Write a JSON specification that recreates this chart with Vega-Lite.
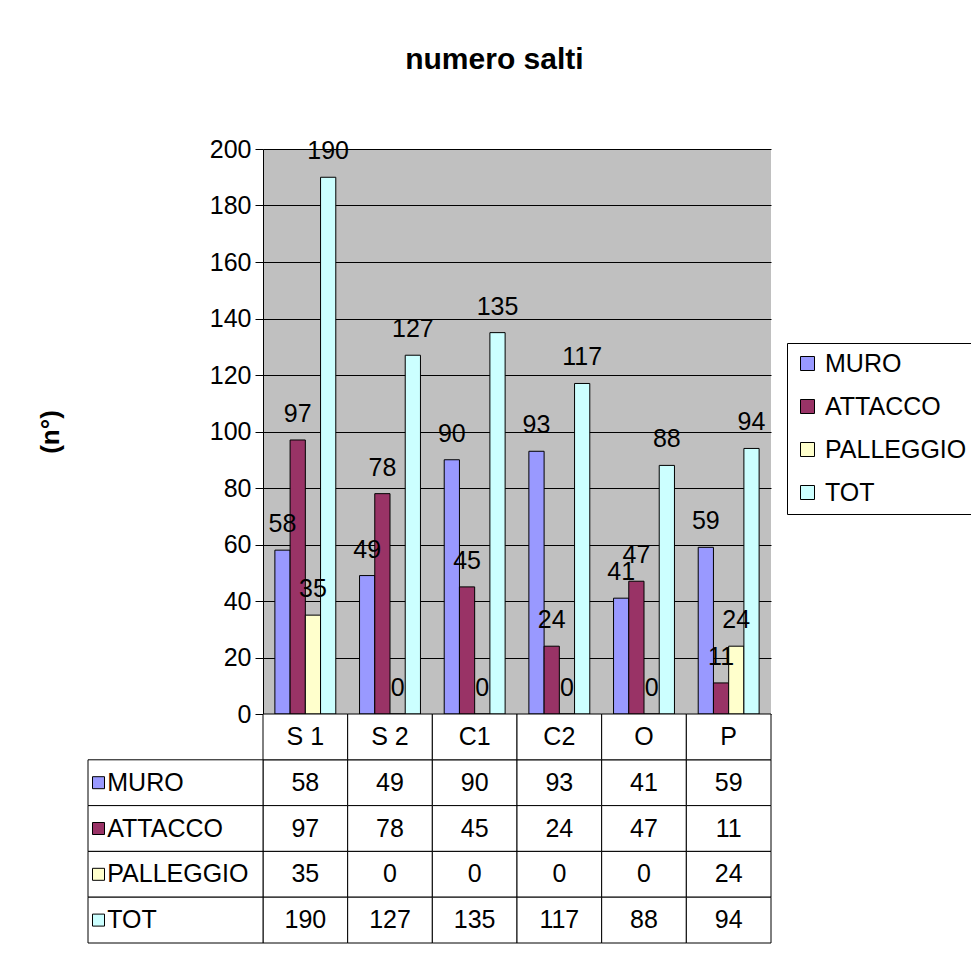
{
  "$schema": "https://vega.github.io/schema/vega-lite/v6.json",
  "background": "white",
  "padding": {"left": 37, "top": 45, "right": 0, "bottom": 5},
  "title": {"text": "numero salti", "font": "Liberation Sans", "fontSize": 30, "fontWeight": "bold", "color": "black", "anchor": "middle", "offset": 62, "dx": -12},
  "config": {
    "font": "Liberation Sans",
    "view": {"stroke": null},
    "text": {"font": "Liberation Sans", "fontSize": 25, "color": "black"}
  },
  "datasets": {
    "vals": [
      {"cat": "S 1", "series": "MURO", "value": 58},
      {"cat": "S 2", "series": "MURO", "value": 49},
      {"cat": "C1", "series": "MURO", "value": 90},
      {"cat": "C2", "series": "MURO", "value": 93},
      {"cat": "O", "series": "MURO", "value": 41},
      {"cat": "P", "series": "MURO", "value": 59},
      {"cat": "S 1", "series": "ATTACCO", "value": 97},
      {"cat": "S 2", "series": "ATTACCO", "value": 78},
      {"cat": "C1", "series": "ATTACCO", "value": 45},
      {"cat": "C2", "series": "ATTACCO", "value": 24},
      {"cat": "O", "series": "ATTACCO", "value": 47},
      {"cat": "P", "series": "ATTACCO", "value": 11},
      {"cat": "S 1", "series": "PALLEGGIO", "value": 35},
      {"cat": "S 2", "series": "PALLEGGIO", "value": 0},
      {"cat": "C1", "series": "PALLEGGIO", "value": 0},
      {"cat": "C2", "series": "PALLEGGIO", "value": 0},
      {"cat": "O", "series": "PALLEGGIO", "value": 0},
      {"cat": "P", "series": "PALLEGGIO", "value": 24},
      {"cat": "S 1", "series": "TOT", "value": 190},
      {"cat": "S 2", "series": "TOT", "value": 127},
      {"cat": "C1", "series": "TOT", "value": 135},
      {"cat": "C2", "series": "TOT", "value": 117},
      {"cat": "O", "series": "TOT", "value": 88},
      {"cat": "P", "series": "TOT", "value": 94}
    ],
    "cats": [{"cat": "S 1"}, {"cat": "S 2"}, {"cat": "C1"}, {"cat": "C2"}, {"cat": "O"}, {"cat": "P"}],
    "series": [
      {"series": "MURO", "col": "lab"},
      {"series": "ATTACCO", "col": "lab"},
      {"series": "PALLEGGIO", "col": "lab"},
      {"series": "TOT", "col": "lab"}
    ]
  },
  "spacing": 0,
  "bounds": "flush",
  "vconcat": [
    {
      "width": 508,
      "height": 565,
      "view": {"fill": "#C0C0C0", "stroke": null},
      "data": {"name": "vals"},
      "encoding": {
        "x": {"field": "cat", "type": "nominal", "sort": null, "axis": null,
              "scale": {"type": "band", "domain": ["S 1", "S 2", "C1", "C2", "O", "P"], "paddingInner": 0, "paddingOuter": 0}},
        "xOffset": {"field": "series", "type": "nominal",
                    "scale": {"type": "band", "domain": ["MURO", "ATTACCO", "PALLEGGIO", "TOT"], "paddingInner": 0, "paddingOuter": 0.78}},
        "y": {"field": "value", "type": "quantitative",
              "scale": {"domain": [0, 200], "nice": false},
              "axis": {"title": "(n°)", "titleFont": "Liberation Sans", "titleFontSize": 26, "titleFontWeight": "bold", "titleColor": "black", "titlePadding": 146,
                       "values": [0, 20, 40, 60, 80, 100, 120, 140, 160, 180, 200],
                       "grid": true, "gridColor": "black", "gridWidth": 1, "gridOpacity": 1,
                       "domainColor": "black", "tickColor": "black", "tickSize": 8,
                       "labelFont": "Liberation Sans", "labelFontSize": 25, "labelColor": "black", "labelPadding": 4}}
      },
      "layer": [
        {
          "mark": {"type": "bar", "stroke": "black", "strokeWidth": 1},
          "encoding": {
            "color": {"field": "series", "type": "nominal",
                      "scale": {"domain": ["MURO", "ATTACCO", "PALLEGGIO", "TOT"], "range": ["#9999FF", "#993366", "#FFFFCC", "#CCFFFF"]},
                      "legend": {"title": null, "orient": "none", "legendX": 524, "legendY": 194,
                                 "symbolType": "square", "symbolSize": 196, "symbolStrokeColor": "black", "symbolStrokeWidth": 1,
                                 "labelFont": "Liberation Sans", "labelFontSize": 25, "labelColor": "black", "labelOffset": 5,
                                 "rowPadding": 17, "padding": 8, "strokeColor": "black", "fillColor": "white"}}
          }
        },
        {
          "mark": {"type": "text", "baseline": "alphabetic", "align": "center", "dy": -18, "fontSize": 25, "color": "black"},
          "encoding": {"text": {"field": "value", "type": "quantitative"}}
        }
      ]
    },
    {
      "width": 508,
      "height": 229,
      "resolve": {"scale": {"x": "independent"}},
      "encoding": {
        "y": {"field": "series", "type": "nominal", "axis": null,
              "scale": {"type": "band", "domain": ["hdr", "MURO", "ATTACCO", "PALLEGGIO", "TOT"], "paddingInner": 0, "paddingOuter": 0}}
      },
      "layer": [
        {
          "data": {"name": "vals"},
          "mark": {"type": "rect", "fill": "white", "stroke": "black", "strokeWidth": 1},
          "encoding": {
            "x": {"field": "cat", "type": "nominal", "axis": null,
                  "scale": {"type": "band", "domain": ["S 1", "S 2", "C1", "C2", "O", "P"], "paddingInner": 0, "paddingOuter": 0}}
          }
        },
        {
          "data": {"name": "cats"},
          "mark": {"type": "rect", "fill": "white", "stroke": "black", "strokeWidth": 1},
          "encoding": {
            "x": {"field": "cat", "type": "nominal", "axis": null,
                  "scale": {"type": "band", "domain": ["S 1", "S 2", "C1", "C2", "O", "P"], "paddingInner": 0, "paddingOuter": 0}},
            "y": {"datum": "hdr", "type": "nominal"}
          }
        },
        {
          "data": {"name": "cats"},
          "mark": {"type": "text", "align": "center", "baseline": "middle", "fontSize": 25},
          "encoding": {
            "x": {"field": "cat", "type": "nominal", "axis": null,
                  "scale": {"type": "band", "domain": ["S 1", "S 2", "C1", "C2", "O", "P"], "paddingInner": 0, "paddingOuter": 0}},
            "y": {"datum": "hdr", "type": "nominal"},
            "text": {"field": "cat"}
          }
        },
        {
          "data": {"name": "vals"},
          "mark": {"type": "text", "align": "center", "baseline": "middle", "fontSize": 25},
          "encoding": {
            "x": {"field": "cat", "type": "nominal", "axis": null,
                  "scale": {"type": "band", "domain": ["S 1", "S 2", "C1", "C2", "O", "P"], "paddingInner": 0, "paddingOuter": 0}},
            "text": {"field": "value", "type": "quantitative"}
          }
        },
        {
          "data": {"name": "series"},
          "mark": {"type": "rect", "fill": "white", "stroke": "black", "strokeWidth": 1},
          "encoding": {
            "x": {"field": "col", "type": "nominal", "axis": null,
                  "scale": {"type": "band", "domain": ["lab"], "range": [-175, 0], "paddingInner": 0, "paddingOuter": 0}}
          }
        },
        {
          "data": {"name": "series"},
          "mark": {"type": "point", "shape": "square", "filled": true, "size": 144, "stroke": "black", "strokeWidth": 1, "opacity": 1},
          "encoding": {
            "x": {"field": "col", "type": "nominal", "axis": null, "bandPosition": 0.06,
                  "scale": {"type": "band", "domain": ["lab"], "range": [-175, 0], "paddingInner": 0, "paddingOuter": 0}},
            "color": {"field": "series", "type": "nominal", "legend": null,
                      "scale": {"domain": ["MURO", "ATTACCO", "PALLEGGIO", "TOT"], "range": ["#9999FF", "#993366", "#FFFFCC", "#CCFFFF"]}}
          }
        },
        {
          "data": {"name": "series"},
          "mark": {"type": "text", "align": "left", "baseline": "middle", "fontSize": 25},
          "encoding": {
            "x": {"field": "col", "type": "nominal", "axis": null, "bandPosition": 0.11,
                  "scale": {"type": "band", "domain": ["lab"], "range": [-175, 0], "paddingInner": 0, "paddingOuter": 0}},
            "text": {"field": "series"}
          }
        }
      ]
    }
  ]
}
